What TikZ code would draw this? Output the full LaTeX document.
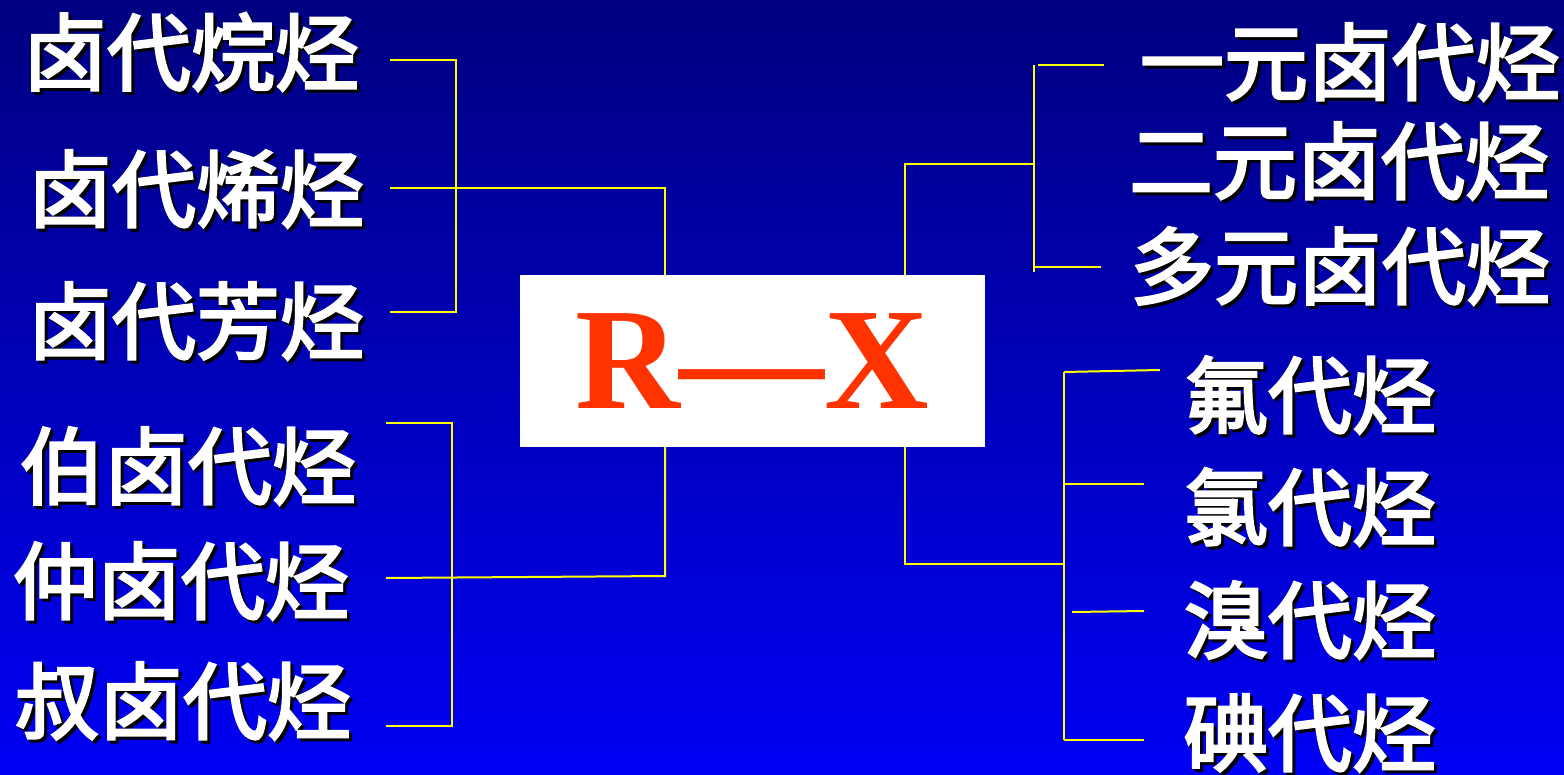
\documentclass[tikz,border=0pt]{standalone}
\usepackage{fontspec}
\setmainfont{Liberation Serif}
\newfontfamily\cjk{Noto Sans CJK SC}[FakeBold=3]
\definecolor{bgtop}{RGB}{0,0,128}
\definecolor{bgbot}{RGB}{0,0,245}
\definecolor{lineyellow}{RGB}{255,255,0}
\definecolor{rxred}{RGB}{255,51,0}
\newcommand\shlabel[4]{%
  \node[shd] at (#2+3,#3+3) {#4};
  \node[lbl] (#1) at (#2,#3) {#4};}
\begin{document}
\begin{tikzpicture}[x=1pt,y=-1pt,
  lbl/.style={text=white,font=\cjk\fontsize{84}{84}\selectfont,inner sep=0pt,anchor=center},
  shd/.style={lbl,text=black},
  yl/.style={draw=lineyellow,line width=2pt}]
\useasboundingbox (0,0) rectangle (1564,774);
\shade[top color=bgtop,bottom color=bgbot] (0,0) rectangle (1564,774);

% central box
\node[fill=white,minimum width=465pt,minimum height=172pt,inner sep=0pt,
      text=rxred,font=\bfseries\fontsize{145}{145}\selectfont] (rx) at (752.5,361) {R—X};

% labels
\shlabel{l1}{191}{52}{卤代烷烃}
\shlabel{l2}{196}{189}{卤代烯烃}
\shlabel{l3}{196}{321}{卤代芳烃}
\shlabel{l4}{188}{466}{伯卤代烃}
\shlabel{l5}{181}{581}{仲卤代烃}
\shlabel{l6}{183}{701}{叔卤代烃}
\shlabel{r1}{1350}{62}{一元卤代烃}
\shlabel{r2}{1339}{161}{二元卤代烃}
\shlabel{r3}{1340}{266}{多元卤代烃}
\shlabel{r4}{1310}{395}{氟代烃}
\shlabel{r5}{1310}{507}{氯代烃}
\shlabel{r6}{1310}{620}{溴代烃}
\shlabel{r7}{1310}{733}{碘代烃}

% bracket coordinates
\coordinate (a1) at (390,60);  \coordinate (a2) at (456,60);
\coordinate (a3) at (456,312); \coordinate (a4) at (390,312);
\coordinate (a5) at (390,188); \coordinate (a6) at (665,188);
\coordinate (b1) at (386,423); \coordinate (b2) at (452,423);
\coordinate (b3) at (452,726); \coordinate (b4) at (386,726);
\coordinate (b5) at (386,578); \coordinate (b6) at (665,576);
\coordinate (c1) at (905,164); \coordinate (c2) at (1034,164);
\coordinate (c3) at (1034,65); \coordinate (c4) at (1034,272);
\coordinate (c5) at (1038,65); \coordinate (c6) at (1104,65);
\coordinate (c7) at (1035,267); \coordinate (c8) at (1101,267);
\coordinate (d1) at (905,564); \coordinate (d2) at (1064,564);
\coordinate (d3) at (1064,372); \coordinate (d4) at (1064,740);
\coordinate (d5) at (1160,370);
\coordinate (d6) at (1064,484); \coordinate (d7) at (1144,484);
\coordinate (d8) at (1072,612); \coordinate (d9) at (1144,611);
\coordinate (d10) at (1144,740);

% connectors
\draw[yl] (a1) -- (a2) -- (a3) -- (a4);
\draw[yl] (a5) -- (a6) -- (a6 |- rx.north);
\draw[yl] (b1) -- (b2) -- (b3) -- (b4);
\draw[yl] (b5) -- (b6) -- (b6 |- rx.south);
\draw[yl] (c1 |- rx.north) -- (c1) -- (c2);
\draw[yl] (c3) -- (c4);
\draw[yl] (c5) -- (c6);
\draw[yl] (c7) -- (c8);
\draw[yl] (d1 |- rx.south) -- (d1) -- (d2);
\draw[yl] (d3) -- (d4);
\draw[yl] (d3) -- (d5);
\draw[yl] (d6) -- (d7);
\draw[yl] (d8) -- (d9);
\draw[yl] (d4) -- (d10);
\end{tikzpicture}
\end{document}
